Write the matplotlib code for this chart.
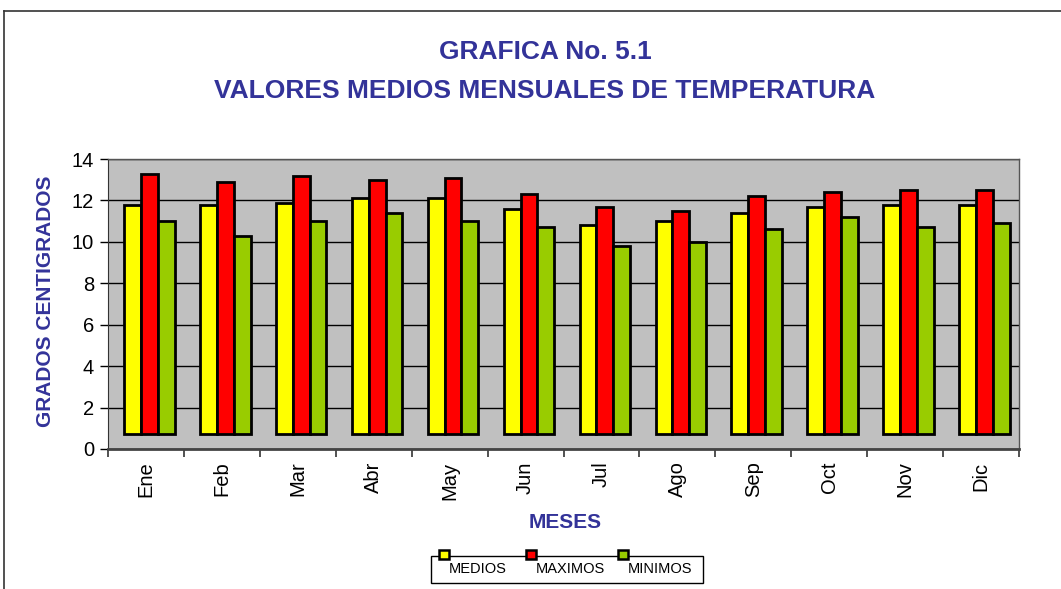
import numpy as np
import matplotlib
matplotlib.use("Agg")
import matplotlib.pyplot as plt
from matplotlib.patches import Rectangle
from matplotlib.lines import Line2D

plt.rcParams['font.family'] = ['Liberation Sans', 'DejaVu Sans']

# Data
months = ['Ene', 'Feb', 'Mar', 'Abr', 'May', 'Jun', 'Jul', 'Ago', 'Sep', 'Oct', 'Nov', 'Dic']
medios = [11.8, 11.8, 11.9, 12.1, 12.1, 11.6, 10.8, 11.0, 11.4, 11.7, 11.8, 11.8]
maximos = [13.3, 12.9, 13.2, 13.0, 13.1, 12.3, 11.7, 11.5, 12.2, 12.4, 12.5, 12.5]
minimos = [11.0, 10.3, 11.0, 11.4, 11.0, 10.7, 9.8, 10.0, 10.6, 11.2, 10.7, 10.9]
series_names = ['MEDIOS', 'MAXIMOS', 'MINIMOS']
colors = ['#FFFF00', '#FF0000', '#99CC00']

blue = '#333399'
W, H = 1061, 589
floor = 0.72   # 3D floor offset of the original Excel chart
shift = 0.045  # small sideways offset of the bars (3D depth)

fig = plt.figure(figsize=(W / 100, H / 100), dpi=100)

def fx(px):
    return px / W

def fy(py):
    return 1 - py / H

# outer frame
fig.add_artist(Line2D([fx(4), 1], [fy(11), fy(11)], color='#333333', lw=1.2))
fig.add_artist(Line2D([fx(4), fx(4)], [fy(11), 0], color='#333333', lw=1.2))

ax = fig.add_axes([fx(108), fy(449), fx(1019) - fx(108), fy(159) - fy(449)])
ax.set_facecolor('#C0C0C0')

x = np.arange(len(months))
bw = 0.222
for i, (vals, c) in enumerate(zip([medios, maximos, minimos], colors)):
    v = np.array(vals)
    ax.bar(x + shift + (i - 1) * bw, v - floor, bw, bottom=floor, color=c,
           edgecolor='black', linewidth=2.0, zorder=3)

ax.set_xlim(-0.5, len(months) - 0.5)
ax.set_ylim(0, 14)
ax.set_yticks(range(0, 15, 2))
ax.yaxis.grid(True, color='black', linewidth=1.0, zorder=1)
ax.set_axisbelow(True)
ax.set_xticks(x)
ax.set_xticklabels(months, rotation=90, fontsize=14.5)
ax.set_xticks(np.arange(-0.5, len(months)), minor=True)
ax.tick_params(axis='x', which='major', length=0, pad=9)
ax.tick_params(axis='x', which='minor', length=6, width=1.2, color='#333333')
ax.tick_params(axis='y', labelsize=14.5, length=6, width=1.0, pad=4)

for s in ['top', 'right']:
    ax.spines[s].set_color('#555555')
    ax.spines[s].set_linewidth(1.0)
ax.spines['left'].set_color('#333333')
ax.spines['bottom'].set_color('#444444')
ax.spines['bottom'].set_linewidth(2.0)

# titles
fig.text(fx(545), fy(52), 'GRAFICA No. 5.1', ha='center', va='center',
         fontsize=19, fontweight='bold', color=blue)
fig.text(fx(545), fy(91), 'VALORES MEDIOS MENSUALES DE TEMPERATURA', ha='center',
         va='center', fontsize=19, fontweight='bold', color=blue)
fig.text(fx(46), fy(301), 'GRADOS CENTIGRADOS', rotation=90, ha='center', va='center',
         fontsize=15, fontweight='bold', color=blue)
fig.text(fx(565), fy(522), 'MESES', ha='center', va='center',
         fontsize=15, fontweight='bold', color=blue)

# legend
fig.add_artist(Rectangle((fx(431), fy(583)), fx(703) - fx(431), fy(556) - fy(583),
                         facecolor='white', edgecolor='black', lw=1.0, transform=fig.transFigure))
marker_x = [439, 526, 618]
label_x = [449, 536, 628]
for mx, lx, name, c in zip(marker_x, label_x, series_names, colors):
    fig.add_artist(Rectangle((fx(mx), fy(559)), fx(10), 9 / H, facecolor=c,
                             edgecolor='black', lw=1.8, transform=fig.transFigure))
    fig.text(fx(lx), fy(569), name, ha='left', va='center', fontsize=10.5, color='black')

fig.savefig('out.png', dpi=100)
